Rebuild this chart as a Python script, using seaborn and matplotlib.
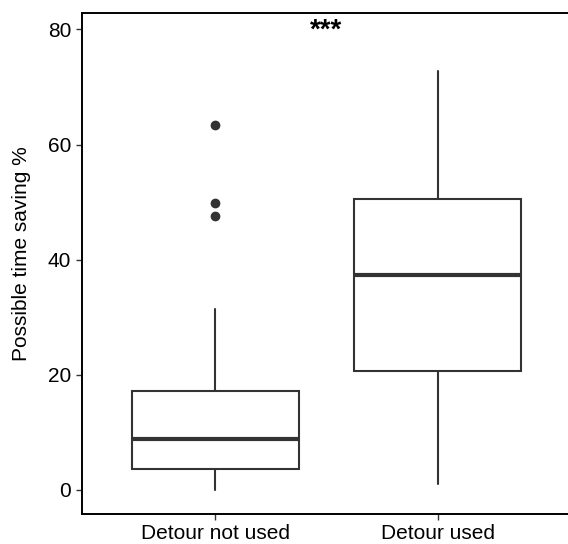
import matplotlib
matplotlib.use("Agg")
import matplotlib.pyplot as plt
import seaborn as sns

# summary stats
groups = ["Detour not used", "Detour used"]
q1 = [3.7, 20.6]
median = [8.9, 37.3]
q3 = [17.1, 50.5]
whisker_low = [0.0, 1.0]
whisker_high = [31.4, 72.8]
outliers = [[47.5, 49.8, 63.4], []]

ylabel = "Possible time saving %"
yticks = [0, 20, 40, 60, 80]
signif = "***"
signif_y = 78.6

sns.set_style("ticks")
plt.rcParams["font.family"] = ["Liberation Sans", "DejaVu Sans"]

fig = plt.figure(figsize=(5.68, 5.44), dpi=100)
ax = fig.add_axes([0.1438, 0.0551, 0.862, 0.9204])

stats = []
for i, g in enumerate(groups):
    stats.append({
        "label": g, "q1": q1[i], "med": median[i], "q3": q3[i],
        "whislo": whisker_low[i], "whishi": whisker_high[i],
        "fliers": outliers[i],
    })

line_col = "#333333"
ax.bxp(
    stats,
    positions=range(len(groups)),
    widths=0.75,
    showcaps=False,
    patch_artist=True,
    boxprops=dict(facecolor="white", edgecolor=line_col, linewidth=1.5),
    whiskerprops=dict(color=line_col, linewidth=1.5),
    medianprops=dict(color=line_col, linewidth=3.0),
    flierprops=dict(marker="o", markerfacecolor=line_col,
                    markeredgecolor=line_col, markersize=6),
)

ax.text(0.5, signif_y, signif, ha="center", va="baseline",
        fontsize=20, fontweight="bold", color="black")

ax.set_xlim(-0.6, 1.6)
ax.set_ylim(-4.2, 82.8)
ax.set_yticks(yticks)
ax.set_xticks(range(len(groups)))
ax.set_xticklabels(groups)
ax.set_ylabel(ylabel, fontsize=15, color="black")
ax.yaxis.set_label_coords(-0.103, 0.52)
ax.set_xlabel("")

ax.tick_params(axis="both", labelsize=15, labelcolor="black",
               color=line_col, length=4, width=1)
for side in ["left", "bottom", "top", "right"]:
    ax.spines[side].set_visible(True)
    ax.spines[side].set_color("black")
    ax.spines[side].set_linewidth(1.4)

fig.savefig("out.png", dpi=100)
